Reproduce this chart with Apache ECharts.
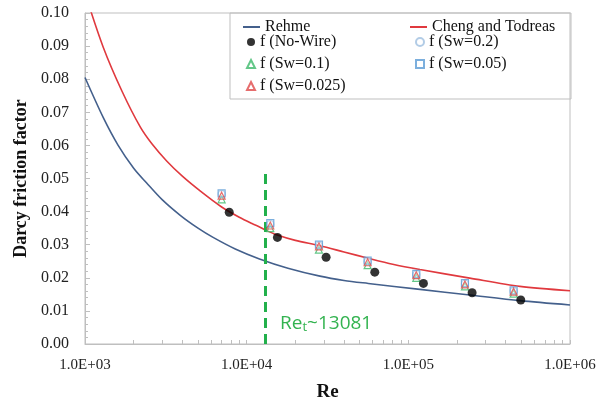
<!DOCTYPE html>
<html>
<head>
<meta charset="utf-8">
<script src="https://cdn.jsdelivr.net/npm/echarts@6/dist/echarts.min.js"></script>
<style>
  html, body { margin: 0; padding: 0; background: #fff; }
  #chart { width: 612px; height: 397px; }
</style>
</head>
<body>
<div id="chart"></div>
<script>
// correlations: [Re, f]
const rehme = [
  [1000, 0.0805], [1300, 0.0683], [1600, 0.0601], [2000, 0.0531], [2400, 0.0487],
  [3000, 0.0436], [3900, 0.0388], [5000, 0.0350], [6200, 0.0322], [8500, 0.0287],
  [12000, 0.0257], [18000, 0.0229], [28400, 0.0205], [40000, 0.0192], [56500, 0.0183],
  [118000, 0.0165], [240000, 0.0148], [490000, 0.0131], [1000000, 0.0118]
]
const chengTodreas = [
  [1000, 0.106], [1300, 0.0895], [1700, 0.0762], [2200, 0.0655], [2600, 0.0604],
  [3200, 0.0553], [4000, 0.0507], [5200, 0.0461], [7000, 0.0414], [9000, 0.0383],
  [11000, 0.0362], [12090, 0.0353], [13081, 0.0344], [15300, 0.0330], [20000, 0.0313],
  [28400, 0.0297], [40000, 0.0278], [56500, 0.0259], [80000, 0.0241], [118000, 0.0225],
  [240000, 0.0199], [490000, 0.0174], [1000000, 0.0161]
]

// measured points
const reNoWire = [7800, 15500, 31000, 62000, 124000, 248000, 496000]
const fNoWire = [0.0398, 0.0322, 0.0262, 0.0217, 0.0183, 0.0155, 0.0133]
const reWire = [7000, 14000, 28000, 56000, 112000, 224000, 448000]
const fSw02 = [0.0453, 0.0362, 0.0297, 0.0249, 0.0210, 0.0182, 0.0160]
const fSw01 = [0.0437, 0.0350, 0.0285, 0.0238, 0.0200, 0.0174, 0.0152]
const fSw005 = [0.0455, 0.0365, 0.0300, 0.0252, 0.0212, 0.0184, 0.0162]
const fSw0025 = [0.0448, 0.0358, 0.0295, 0.0247, 0.0208, 0.0180, 0.0158]

const reT = 13081
const reTLine = [[reT, 0], [reT, 0.053]]

const xLabels = [1000, 10000, 100000, 1000000]
const xTicks = []
for (let d = 1000; d < 1000000; d *= 10) {
  for (let m = 1; m <= 9; m++) xTicks.push(d * m)
}
xTicks.push(1000000)

const grey = '#bfbfbf'
const serif = '"Liberation Serif", "DejaVu Serif", serif'
const legendText = { fontFamily: serif, fontSize: 16, lineHeight: 10, color: '#111' }

const pair = (xs, ys) => xs.map((x, i) => [x, ys[i]])

const chart = echarts.init(document.getElementById('chart'), null, { renderer: 'canvas' })

const hollow = (name, symbol, color, ys) => ({
  name,
  type: 'scatter',
  symbol,
  symbolSize: 7,
  data: pair(reWire, ys),
  itemStyle: { color: 'rgba(255,255,255,0.3)', borderColor: color, borderWidth: 1.2 },
  z: 4
})

chart.setOption({
  animation: false,
  grid: {
    left: 85, right: 42, top: 13, bottom: 53,
    outerBoundsMode: 'none',
    show: true, borderColor: grey, borderWidth: 1
  },
  legend: [
    {
      // line entries, also draws the legend frame
      left: 230, top: 13,
      width: 340,
      padding: [6, 0, 64, 13],
      itemGap: 6,
      itemWidth: 17,
      itemHeight: 2,
      icon: 'rect',
      borderColor: grey,
      borderWidth: 1,
      textStyle: Object.assign({ width: 139 }, legendText),
      data: ['Rehme', 'Cheng and Todreas']
    },
    {
      left: 246, top: 34,
      width: 340,
      padding: 0,
      itemGap: 6,
      itemWidth: 8,
      itemHeight: 8,
      textStyle: Object.assign({ width: 149 }, legendText),
      data: ['f (No-Wire)', 'f (Sw=0.2)', 'f (Sw=0.1)', 'f (Sw=0.05)', 'f (Sw=0.025)']
    }
  ],
  xAxis: {
    type: 'log',
    logBase: 10,
    min: 1000,
    max: 1000000,
    name: 'Re',
    nameLocation: 'middle',
    nameGap: 39,
    nameTextStyle: { fontFamily: serif, fontSize: 19, fontWeight: 'bold', color: '#111' },
    axisLine: { lineStyle: { color: grey } },
    axisTick: { inside: true, length: 4, customValues: xTicks, lineStyle: { color: grey } },
    axisLabel: {
      customValues: xLabels,
      margin: 14,
      fontFamily: serif, fontSize: 15, color: '#222',
      formatter: v => '1.0E+' + String(Math.round(Math.log10(v))).padStart(2, '0')
    },
    splitLine: { show: false }
  },
  yAxis: {
    type: 'value',
    min: 0,
    max: 0.1,
    interval: 0.01,
    name: 'Darcy friction factor',
    nameLocation: 'middle',
    nameGap: 45,
    nameTextStyle: { fontFamily: serif, fontSize: 18, fontWeight: 'bold', color: '#111' },
    axisLine: { show: true, lineStyle: { color: grey } },
    axisTick: { show: true, inside: true, length: 5, lineStyle: { color: grey } },
    minorTick: { show: true, splitNumber: 5, length: 3, lineStyle: { color: grey } },
    axisLabel: { margin: 16, fontFamily: serif, fontSize: 16, color: '#222', formatter: v => v.toFixed(2) },
    splitLine: { show: false }
  },
  series: [
    {
      name: 'Rehme',
      type: 'line',
      smooth: 0.3,
      symbol: 'none',
      data: rehme,
      lineStyle: { color: '#44608c', width: 1.6 },
      itemStyle: { color: '#44608c' },
      z: 2
    },
    {
      name: 'Cheng and Todreas',
      type: 'line',
      smooth: 0.3,
      symbol: 'none',
      data: chengTodreas,
      lineStyle: { color: '#e0393e', width: 1.6 },
      itemStyle: { color: '#e0393e' },
      z: 2
    },
    {
      name: 'Re_t',
      type: 'line',
      symbol: 'none',
      data: reTLine,
      lineStyle: { color: '#22b04b', width: 3, type: [10, 6] },
      markPoint: {
        symbol: 'circle',
        symbolSize: 1,
        itemStyle: { color: 'rgba(0,0,0,0)' },
        data: [{ coord: [reT, 0.0063] }],
        label: {
          show: true,
          position: 'right',
          distance: 14,
          formatter: '{a|Re}{b|t}{a|~13081}',
          rich: {
            a: { fontFamily: '"Open Sans", sans-serif', fontSize: 19, color: '#33b350' },
            b: { fontFamily: '"Open Sans", sans-serif', fontSize: 13, color: '#33b350', padding: [9, 0, 0, 0] }
          }
        }
      },
      z: 3
    },
    {
      name: 'f (No-Wire)',
      type: 'scatter',
      symbol: 'circle',
      symbolSize: 9,
      data: pair(reNoWire, fNoWire),
      itemStyle: { color: '#000' },
      z: 5
    },
    hollow('f (Sw=0.2)', 'circle', '#9fbfe0', fSw02),
    hollow('f (Sw=0.1)', 'triangle', '#3cb96a', fSw01),
    hollow('f (Sw=0.05)', 'rect', '#5b9bd5', fSw005),
    hollow('f (Sw=0.025)', 'triangle', '#e04848', fSw0025)
  ]
})
</script>
</body>
</html>
